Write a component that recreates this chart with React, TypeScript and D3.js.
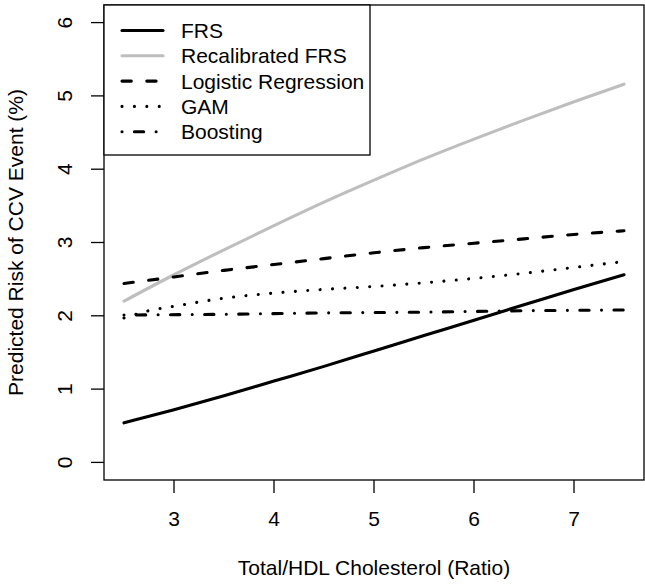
import * as d3 from "d3";

// x grid shared by the smooth curves
const xs = [2.5, 3, 3.5, 4, 4.5, 5, 5.5, 6, 6.5, 7, 7.5];
const frs = [0.54, 0.72, 0.91, 1.11, 1.31, 1.52, 1.73, 1.94, 2.15, 2.36, 2.56];
const recalFrs = [2.2, 2.56, 2.9, 3.23, 3.55, 3.85, 4.14, 4.41, 4.67, 4.92, 5.16];
const logistic = [2.44, 2.53, 2.62, 2.7, 2.78, 2.86, 2.93, 2.99, 3.05, 3.11, 3.16];

const gamX = [2.5, 2.75, 3, 3.5, 4, 4.5, 5, 5.5, 6, 6.5, 7, 7.5];
const gam = [1.97, 2.07, 2.13, 2.24, 2.31, 2.36, 2.4, 2.45, 2.51, 2.58, 2.66, 2.74];

const boostX = [2.5, 3.5, 4.5, 5.5, 6.5, 7.5];
const boosting = [2.01, 2.02, 2.04, 2.05, 2.07, 2.08];

const xTicks = [3, 4, 5, 6, 7];
const yTicks = [0, 1, 2, 3, 4, 5, 6];

const legendLabels = ["FRS", "Recalibrated FRS", "Logistic Regression", "GAM", "Boosting"];

const W = 645, H = 585;
const FONT = "'Liberation Sans', Arial, sans-serif";
const FS = 21;

const LWD = 3.1;
const styles = [
  { color: "#000", dash: null },
  { color: "#BEBEBE", dash: null },
  { color: "#000", dash: `${3 * LWD} ${5 * LWD}` },
  { color: "#000", dash: `0.01 ${4 * LWD}` },
  { color: "#000", dash: `0.01 ${4 * LWD} ${3 * LWD} ${4 * LWD}` },
];

export default function App() {
  const x = d3.scaleLinear().domain([2.3, 7.7]).range([104, 644]);
  const y = d3.scaleLinear().domain([-0.24, 6.24]).range([480, 5]);

  const line = d3.line<[number, number]>()
    .x(d => x(d[0]))
    .y(d => y(d[1]))
    .curve(d3.curveMonotoneX);
  const flat = d3.line<[number, number]>()
    .x(d => x(d[0]))
    .y(d => y(d[1]));

  const series: string[] = [
    line(xs.map((v, i) => [v, frs[i]] as [number, number]))!,
    line(xs.map((v, i) => [v, recalFrs[i]] as [number, number]))!,
    line(xs.map((v, i) => [v, logistic[i]] as [number, number]))!,
    line(gamX.map((v, i) => [v, gam[i]] as [number, number]))!,
    flat(boostX.map((v, i) => [v, boosting[i]] as [number, number]))!,
  ];

  const [x0, x1] = x.range();
  const [y0, y1] = y.range();

  return (
    <div style={{ position: "absolute", left: 0, top: 0 }}>
      <svg width={W} height={H} style={{ display: "block", background: "#fff" }}
        fontFamily={FONT} fontSize={FS}>
        {series.map((d, i) => (
          <path key={i} d={d} fill="none" stroke={styles[i].color} strokeWidth={LWD}
            strokeLinecap="round" strokeLinejoin="round"
            strokeDasharray={styles[i].dash ?? undefined} />
        ))}

        {/* plot box */}
        <rect x={x0} y={y1} width={x1 - x0} height={y0 - y1} fill="none" stroke="#000" strokeWidth={1.3} />

        {/* x axis */}
        {xTicks.map(t => (
          <g key={t}>
            <line x1={x(t)} x2={x(t)} y1={y0} y2={y0 + 13} stroke="#000" strokeWidth={1.3} />
            <text x={x(t)} y={526} textAnchor="middle">{t}</text>
          </g>
        ))}
        <text x={(x0 + x1) / 2} y={575} textAnchor="middle">Total/HDL Cholesterol (Ratio)</text>

        {/* y axis */}
        {yTicks.map(t => (
          <g key={t}>
            <line x1={x0 - 13} x2={x0} y1={y(t)} y2={y(t)} stroke="#000" strokeWidth={1.3} />
            <text transform={`translate(72,${y(t)}) rotate(-90)`} textAnchor="middle">{t}</text>
          </g>
        ))}
        <text transform={`translate(23,${(y0 + y1) / 2}) rotate(-90)`} textAnchor="middle">
          Predicted Risk of CCV Event (%)
        </text>

        {/* legend */}
        <rect x={104} y={5} width={266} height={150} fill="#fff" stroke="#000" strokeWidth={1.3} />
        {legendLabels.map((lab, i) => {
          const ly = 30.5 + i * 25.3;
          return (
            <g key={lab}>
              <line x1={122} x2={163} y1={ly} y2={ly} stroke={styles[i].color} strokeWidth={LWD}
                strokeLinecap="round" strokeDasharray={styles[i].dash ?? undefined} />
              <text x={181} y={ly} dy="0.36em">{lab}</text>
            </g>
          );
        })}
      </svg>
    </div>
  );
}
